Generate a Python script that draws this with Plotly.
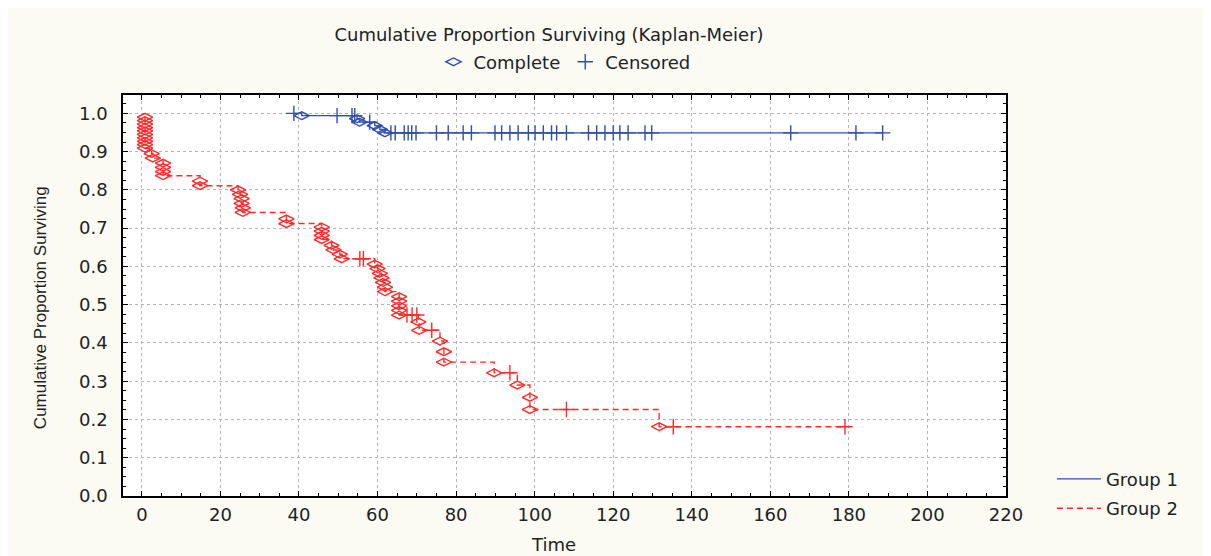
import plotly.graph_objects as go

# ---------------- data ----------------
# Group 1 (solid blue)
g1_event_time = [40.7, 54.8, 55.4, 59.3, 60.6, 61.9]
g1_event_surv = [0.994, 0.986, 0.977, 0.968, 0.958, 0.949]
g1_cens_time = [38.7, 49.7, 53.5, 54.2, 58.0, 63.4, 64.5, 66.8, 67.8, 68.7, 69.8,
                75.0, 78.0, 81.8, 83.9, 89.9, 91.6, 93.7, 95.8, 98.4, 100.1,
                102.2, 104.3, 105.6, 108.1, 113.7, 115.8, 117.9, 120.0, 121.7,
                123.8, 128.1, 129.8, 165.2, 181.8, 188.6]
g1_cens_surv = [1.0, 0.994, 0.994, 0.994, 0.977, 0.949, 0.949, 0.949, 0.949, 0.949, 0.949,
                0.949, 0.949, 0.949, 0.949, 0.949, 0.949, 0.949, 0.949, 0.949, 0.949,
                0.949, 0.949, 0.949, 0.949, 0.949, 0.949, 0.949, 0.949, 0.949,
                0.949, 0.949, 0.949, 0.949, 0.949, 0.949]

# Group 2 (dashed red)
g2_event_time = [0.8, 0.8, 0.8, 0.8, 0.8, 0.8, 0.8, 0.8, 0.8, 0.8,
                 2.5, 2.8,
                 5.4, 5.4, 5.4, 5.4,
                 14.8, 14.8,
                 24.5, 25.0, 25.4, 25.4, 25.7, 25.7,
                 36.8, 36.8,
                 45.8, 45.8, 45.8, 45.8,
                 48.3, 48.8, 50.4, 50.9,
                 59.3, 60.0, 60.6, 61.0, 61.4, 61.9, 61.9,
                 65.5, 65.5, 65.5, 65.5, 65.5,
                 70.4, 70.6,
                 75.9, 76.9, 76.9,
                 89.7, 95.6, 98.8, 98.8, 131.7]
g2_event_surv = [0.990, 0.981, 0.972, 0.963, 0.954, 0.945, 0.936, 0.927, 0.918, 0.909,
                 0.895, 0.883,
                 0.870, 0.859, 0.848, 0.837,
                 0.823, 0.811,
                 0.800, 0.788, 0.777, 0.765, 0.753, 0.741,
                 0.724, 0.712,
                 0.703, 0.692, 0.681, 0.670,
                 0.655, 0.643, 0.632, 0.620,
                 0.606, 0.594, 0.582, 0.570, 0.558, 0.546, 0.534,
                 0.521, 0.509, 0.497, 0.485, 0.473,
                 0.455, 0.433,
                 0.405, 0.377, 0.350,
                 0.322, 0.290, 0.258, 0.226, 0.181]
g2_cens_time = [55.5, 56.4, 67.5, 68.8, 70.0, 73.8, 93.7, 108.1, 135.3, 179.0]
g2_cens_surv = [0.620, 0.620, 0.473, 0.473, 0.473, 0.433, 0.322, 0.226, 0.181, 0.181]

x_ticks = [0, 20, 40, 60, 80, 100, 120, 140, 160, 180, 200, 220]
y_ticks = [0.0, 0.1, 0.2, 0.3, 0.4, 0.5, 0.6, 0.7, 0.8, 0.9, 1.0]

BLUE = "#2f4fae"
RED = "#ff2a2a"
FONT = "DejaVu Sans"
FS = 18


def step_points(et, es, ct, cs):
    pts = [(t, s) for t, s in zip(et, es)] + [(t, s) for t, s in zip(ct, cs)]
    pts.sort(key=lambda p: (p[0], -p[1]))
    return [p[0] for p in pts], [p[1] for p in pts]


fig = go.Figure()

for name, et, es, ct, cs, col, dash in [
    ("Group 1", g1_event_time, g1_event_surv, g1_cens_time, g1_cens_surv, BLUE, "solid"),
    ("Group 2", g2_event_time, g2_event_surv, g2_cens_time, g2_cens_surv, RED, "6px,4px"),
]:
    sx, sy = step_points(et, es, ct, cs)
    fig.add_trace(go.Scatter(x=sx, y=sy, mode="lines", name=name, legendgroup=name,
                             line=dict(color=col, width=1.4, dash=dash, shape="hv"),
                             legend="legend"))
    fig.add_trace(go.Scatter(x=et, y=es, mode="markers", showlegend=False,
                             marker=dict(symbol="diamond-wide-open", size=11,
                                         color=col, line=dict(color=col, width=1.4))))
    fig.add_trace(go.Scatter(x=ct, y=cs, mode="markers", showlegend=False,
                             marker=dict(symbol="cross-thin-open", size=11,
                                         color=col, line=dict(color=col, width=1.4))))

# marker-type legend (top)
fig.add_trace(go.Scatter(x=[None], y=[None], mode="markers", name="Complete",
                         marker=dict(symbol="diamond-wide-open", size=11, color=BLUE,
                                     line=dict(color=BLUE, width=1.4)),
                         legend="legend2"))
fig.add_trace(go.Scatter(x=[None], y=[None], mode="markers", name="Censored",
                         marker=dict(symbol="cross-thin-open", size=11, color=BLUE,
                                     line=dict(color=BLUE, width=1.4)),
                         legend="legend2"))

axis_common = dict(showline=True, linecolor="black", linewidth=1.5, mirror="ticks",
                   ticks="inside", ticklen=5, tickcolor="black",
                   showgrid=True, gridcolor="#b4b4b4", griddash="dot", gridwidth=1,
                   zeroline=False, tickfont=dict(family=FONT, size=FS, color="#222"))

fig.update_xaxes(range=[-4.8, 220], tickvals=x_ticks, ticklabelstandoff=2,
                 minor=dict(dtick=5, ticks="inside", ticklen=3, tickcolor="black", showgrid=False),
                 **axis_common)
fig.update_yaxes(range=[0, 1.048], tickvals=y_ticks, tickformat=".1f", ticklabelstandoff=10,
                 minor=dict(dtick=0.025, ticks="inside", ticklen=3, tickcolor="black", showgrid=False),
                 **axis_common)

fig.update_layout(
    width=1203, height=548,
    margin=dict(l=115, r=205, t=87, b=60),
    paper_bgcolor="#fbfbf3", plot_bgcolor="white",
    title=dict(text="Cumulative Proportion Surviving (Kaplan-Meier)",
               x=541 / 1203, xanchor="center", y=1 - 27 / 548, yanchor="middle",
               font=dict(family=FONT, size=FS, color="#222")),
    legend=dict(x=1.052, y=0.088, xanchor="left", yanchor="top", traceorder="grouped",
                bgcolor="rgba(0,0,0,0)", font=dict(family=FONT, size=FS, color="#222"),
                itemwidth=44, tracegroupgap=3),
    legend2=dict(orientation="h", x=0.5, y=1.082, xanchor="center", yanchor="middle",
                 bgcolor="rgba(0,0,0,0)", font=dict(family=FONT, size=FS, color="#222")),
    annotations=[
        dict(text="Time", xref="paper", yref="paper", x=0.487, y=-0.122,
             xanchor="center", yanchor="middle", showarrow=False,
             font=dict(family=FONT, size=FS, color="#222")),
        dict(text="Cumulative Proportion Surviving", xref="paper", yref="paper",
             x=-0.094, y=0.471, xanchor="center", yanchor="middle", textangle=-90,
             showarrow=False, font=dict(family="Liberation Sans", size=17, color="#222")),
    ],
)

fig.write_html("out.html")
